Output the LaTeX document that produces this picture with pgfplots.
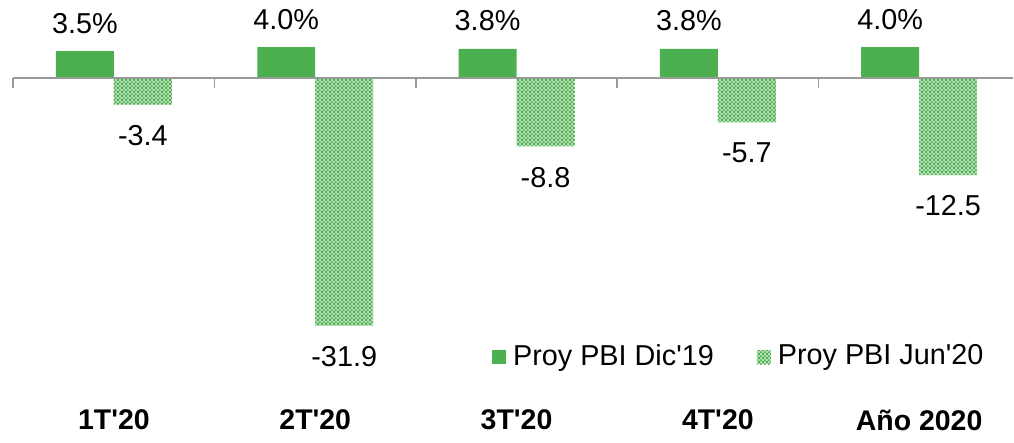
\documentclass[border=0pt]{standalone}
\usepackage{fontspec}
\setmainfont{Liberation Sans}
\usepackage{pgfplots}
\pgfplotsset{compat=1.18}
\usetikzlibrary{patterns.meta}

\definecolor{pgreen}{RGB}{76,175,80}
\definecolor{plight}{RGB}{185,225,185}

\pgfdeclarepattern{
  name=checker, type=uncolored,
  bottom left={\pgfpoint{0pt}{0pt}},
  top right={\pgfpoint{1.2pt}{1.2pt}},
  tile size={\pgfpoint{1.2pt}{1.2pt}},
  code={
    \pgfpathrectangle{\pgfpointorigin}{\pgfpoint{0.6pt}{0.6pt}}
    \pgfpathrectangle{\pgfpoint{0.6pt}{0.6pt}}{\pgfpoint{0.6pt}{0.6pt}}
    \pgfusepath{fill}
  }
}

\begin{document}
\begin{tikzpicture}
\begin{axis}[
  width=10.14cm, height=4.41cm, scale only axis,
  xmin=-0.566, xmax=4.467,
  ymin=-46.78, ymax=10.05,
  axis line style={draw=none},
  major tick length=0pt,
  ytick=\empty,
  xtick={0,1,2,3,4},
  xticklabels={1T\textquotesingle 20,2T\textquotesingle 20,3T\textquotesingle 20,4T\textquotesingle 20,Año 2020},
  xticklabel style={font=\fontsize{8.1}{10}\selectfont\bfseries, anchor=center, yshift=0.21cm},
  clip=false,
  ybar, bar width=0.288,
  point meta=explicit symbolic,
  legend columns=2,
  legend style={at={(0.485,0.19)}, anchor=west, draw=none, fill=none, inner sep=0pt,
    font=\fontsize{8.2}{10}\selectfont,
    /tikz/every even column/.append style={column sep=0.36cm}},
  legend image code/.code={\fill[#1] (0cm,-0.07cm) rectangle (0.14cm,0.07cm);},
]
\addplot[fill=pgreen, draw=none, bar shift=-0.144,
  nodes near coords={\pgfplotspointmeta\%},
  every node near coord/.append style={font=\fontsize{8.2}{10}\selectfont, anchor=south, inner sep=0pt, yshift=0.17cm, color=black}]
  coordinates {(0,3.5) [3.5] (1,4.0) [4.0] (2,3.8) [3.8] (3,3.8) [3.8] (4,4.0) [4.0]};
\addlegendentry{Proy PBI Dic\textquotesingle 19}
\addplot[fill=plight, draw=none, bar shift=0.144,
  postaction={pattern=checker, pattern color=pgreen},
  nodes near coords={\pgfplotspointmeta},
  every node near coord/.append style={font=\fontsize{8.2}{10}\selectfont, anchor=north, inner sep=0pt, yshift=-0.2cm, color=black}]
  coordinates {(0,-3.4) [-3.4] (1,-31.9) [-31.9] (2,-8.8) [-8.8] (3,-5.7) [-5.7] (4,-12.5) [-12.5]};
\addlegendentry{Proy PBI Jun\textquotesingle 20}
\draw[color=black!40, line width=0.5pt] (axis cs:-0.5,0) -- (axis cs:4.467,0);
\pgfplotsinvokeforeach{-0.5,0.5,1.5,2.5,3.5}{
  \draw[color=black!40, line width=0.5pt] (axis cs:#1,0) -- (axis cs:#1,-1.3);
}
\end{axis}
\end{tikzpicture}
\end{document}
